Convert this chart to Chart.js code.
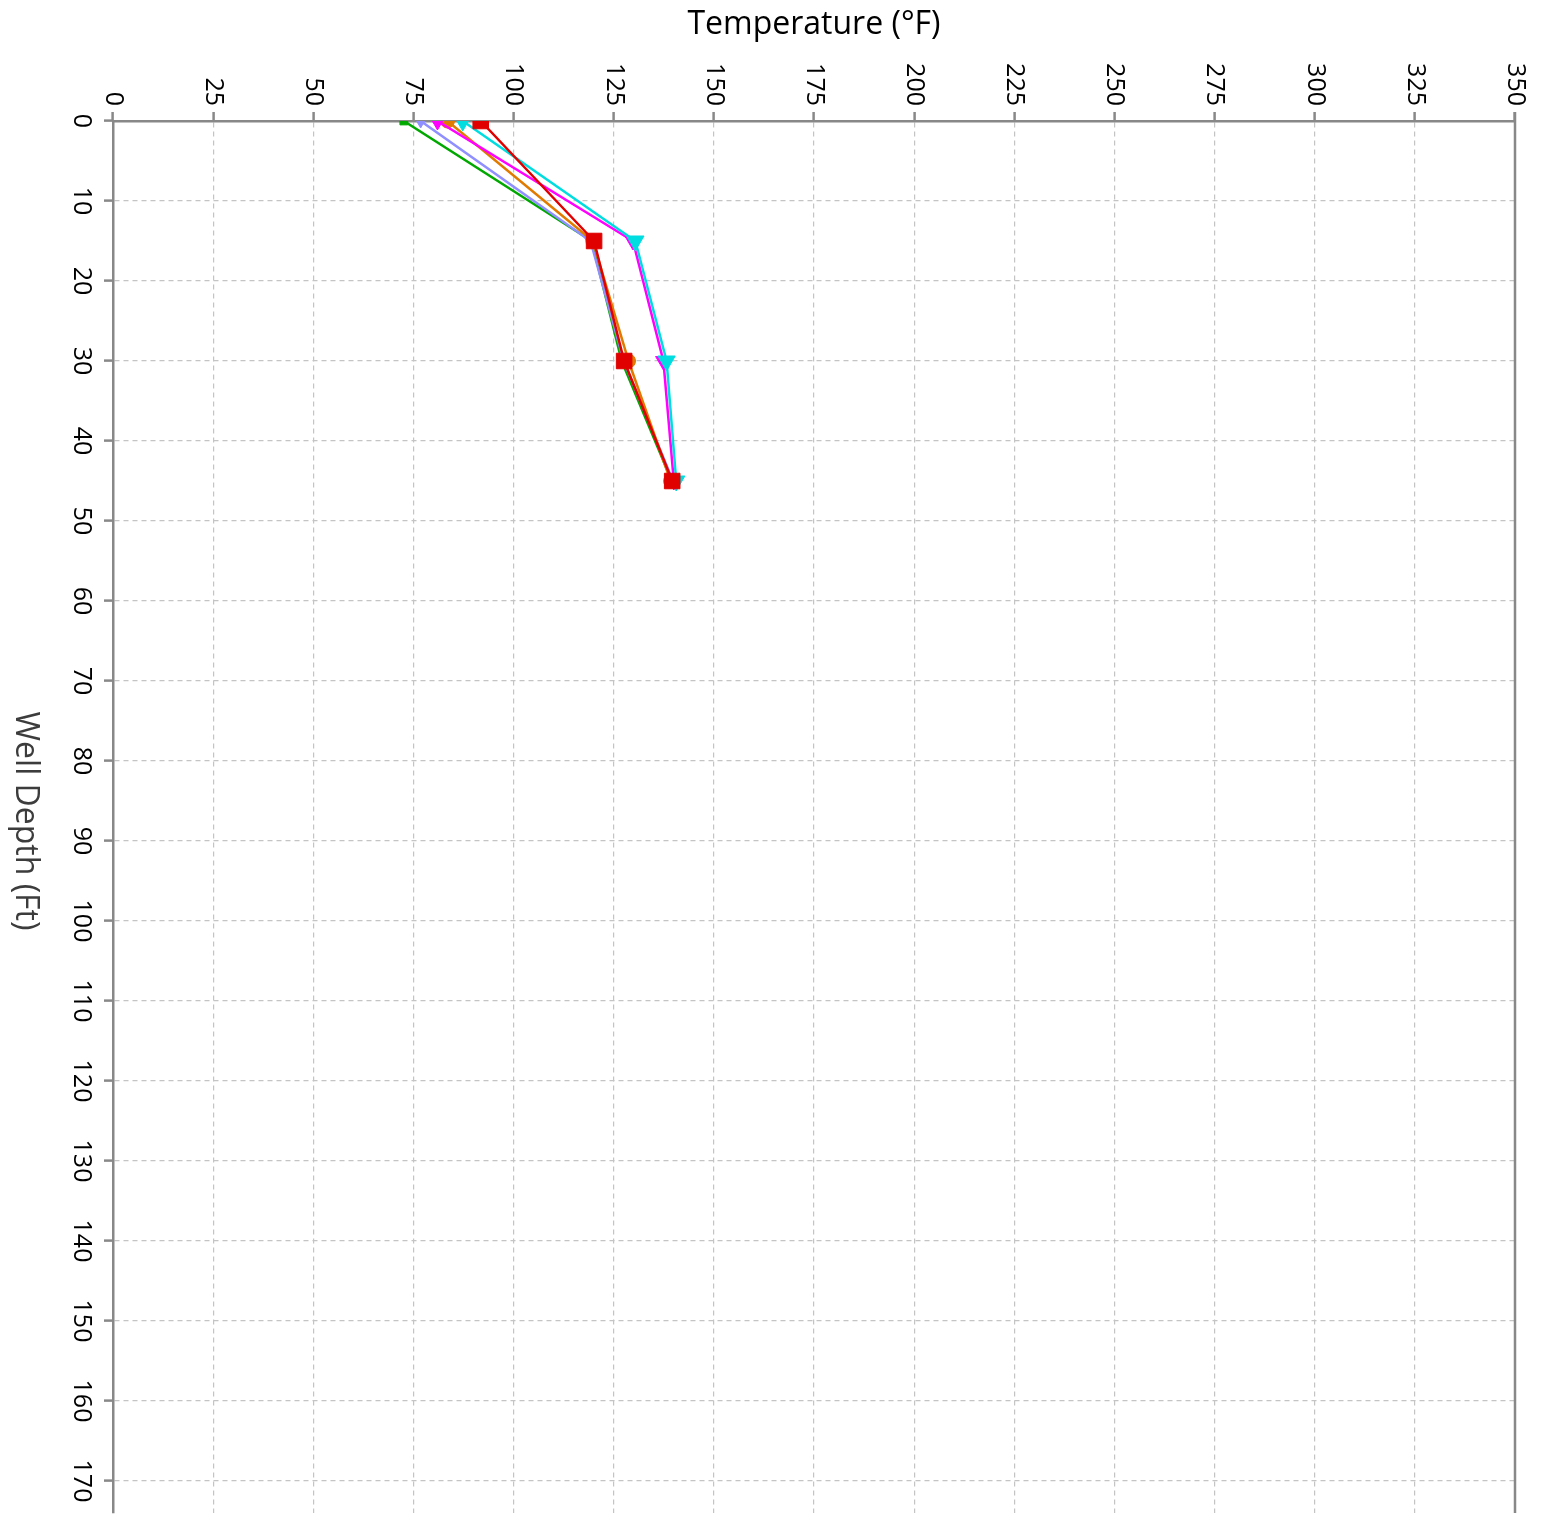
<!DOCTYPE html>
<html>
<head>
<meta charset="utf-8">
<title>Well Temperature Profile</title>
<script src="https://cdn.jsdelivr.net/npm/chart.js@4.4.0/dist/chart.umd.min.js"></script>
<style>
  html, body { margin: 0; padding: 0; background: #fff; overflow: hidden; }
  #wrap { width: 1543px; height: 1515px; }
</style>
</head>
<body>
<div id="wrap"><canvas id="wellChart"></canvas></div>
<script>
  "use strict";

  // depth of each reading (ft)
  var depths = [0, 15, 30, 45];

  // temperature per run (°F)
  var tempGreen    = [72.6, 119.5, 127.0, 139.5];
  var tempLavender = [76.8, 119.2, 127.5, 139.8];
  var tempMagenta  = [81.0, 129.8, 137.4, 140.0];
  var tempOrange   = [83.5, 119.8, 128.7, 139.2];
  var tempCyan     = [87.3, 130.4, 138.2, 140.6];
  var tempRed      = [91.8, 120.1, 127.6, 139.6];

  var tempMin = 0, tempMax = 350, tempStep = 25;
  var depthMin = 0, depthMax = 174, depthStep = 10;

  var xTitle = 'Temperature (°F)';
  var yTitle = 'Well Depth (Ft)';

  function toPoints(temps) {
    return temps.map(function (t, i) {
      return { x: t, y: depths[i] };
    });
  }

  function series(label, temps, color, style, radius, rotation) {
    return {
      label: label,
      data: toPoints(temps),
      borderColor: color,
      backgroundColor: color,
      borderWidth: 2.5,
      pointStyle: style,
      pointRadius: radius,
      pointRotation: rotation || 0,
      pointBorderWidth: 1,
      clip: 0
    };
  }

  // rotated tick labels + titles + right frame line
  var axisText = {
    id: 'axisText',
    afterDraw: function (chart) {
      var ctx = chart.ctx;
      var xs = chart.scales.x;
      var ys = chart.scales.y;
      var area = chart.chartArea;

      ctx.save();
      ctx.strokeStyle = '#888888';
      ctx.lineWidth = 2.5;
      ctx.beginPath();
      ctx.moveTo(area.right, area.top - 9);
      ctx.lineTo(area.right, area.bottom);
      ctx.stroke();

      ctx.fillStyle = '#000000';
      ctx.font = '25px "Open Sans"';
      ctx.textBaseline = 'middle';

      ctx.textAlign = 'right';
      xs.ticks.forEach(function (t) {
        ctx.save();
        ctx.translate(xs.getPixelForValue(t.value), area.top - 15);
        ctx.rotate(Math.PI / 2);
        ctx.fillText(t.label, 0, 0);
        ctx.restore();
      });

      ctx.textAlign = 'center';
      ys.ticks.forEach(function (t) {
        ctx.save();
        ctx.translate(81, ys.getPixelForValue(t.value));
        ctx.rotate(Math.PI / 2);
        ctx.fillText(t.label, 0, 0);
        ctx.restore();
      });

      ctx.font = '32px "Open Sans"';
      ctx.fillText(xTitle, (area.left + area.right) / 2, 25);

      ctx.fillStyle = '#3c3c3c';
      ctx.translate(25, 821);
      ctx.rotate(Math.PI / 2);
      ctx.fillText(yTitle, 0, 0);
      ctx.restore();
    }
  };

  var gridOpts = {
    color: '#c4c4c4',
    lineWidth: 1.2,
    tickLength: 9,
    tickColor: '#888888',
    tickWidth: 2.5,
    tickBorderDash: []
  };

  var ctx1 = document.getElementById('wellChart').getContext('2d');
  var wellChart = new Chart(ctx1, {
    type: 'line',
    data: {
      datasets: [
        series('Run 6', tempRed, '#e00000', 'rect', 11),
        series('Run 5', tempCyan, '#00dde0', 'triangle', 10, 180),
        series('Run 3', tempMagenta, '#ff00ff', 'triangle', 9, 180),
        series('Run 4', tempOrange, '#e07b00', 'circle', 7),
        series('Run 2', tempLavender, '#8f8fff', 'triangle', 7, 180),
        series('Run 1', tempGreen, '#00a800', 'rect', 5.5)
      ]
    },
    options: {
      responsive: true,
      maintainAspectRatio: false,
      animation: false,
      layout: { autoPadding: false, padding: { left: 104, top: 112, right: 28, bottom: 2 } },
      plugins: {
        legend: { display: false },
        tooltip: { enabled: false }
      },
      scales: {
        x: {
          type: 'linear',
          position: 'top',
          min: tempMin,
          max: tempMax,
          ticks: { display: false, stepSize: tempStep },
          grid: gridOpts,
          border: { color: '#888888', width: 2.5, dash: [5, 4] }
        },
        y: {
          type: 'linear',
          reverse: true,
          min: depthMin,
          max: depthMax,
          ticks: { display: false, stepSize: depthStep, includeBounds: false },
          grid: gridOpts,
          border: { color: '#888888', width: 2.5, dash: [5, 4] }
        }
      }
    },
    plugins: [axisText]
  });
</script>
</body>
</html>
